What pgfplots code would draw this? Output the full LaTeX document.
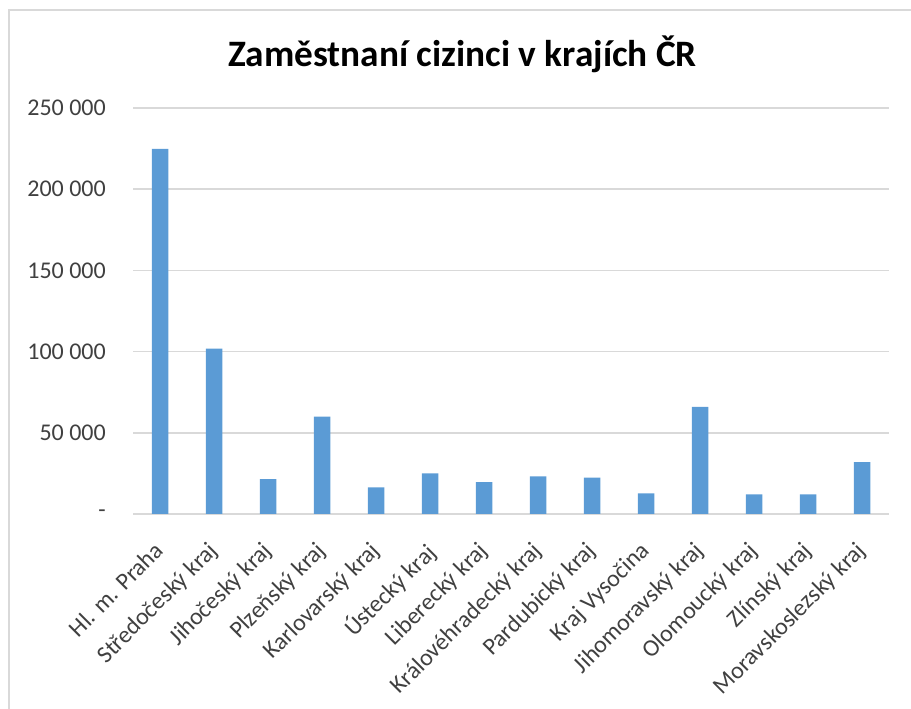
\documentclass[border=0pt]{standalone}
\usepackage{fontspec}
\setmainfont{Carlito}
\usepackage{pgfplots}
\pgfplotsset{compat=1.18}
\definecolor{barblue}{HTML}{5B9BD5}
\definecolor{gridgrey}{HTML}{D9D9D9}
\definecolor{labgrey}{HTML}{404040}
\begin{document}
\begin{tikzpicture}[x=1pt,y=1pt]
\path[use as bounding box] (0,0) rectangle (911,709);
\draw[gridgrey, line width=2pt] (9,0) -- (9,699) -- (911,699);
\node[anchor=base, font=\fontsize{37.3}{44}\selectfont\bfseries, text=black, inner sep=0pt] at (462.5,642) {Zaměstnaní cizinci v krajích ČR};
\begin{axis}[
  at={(133pt,195pt)}, anchor=south west,
  scale only axis, width=756pt, height=406pt,
  xmin=-0.5, xmax=13.5, ymin=0, ymax=250000,
  scaled y ticks=false,
  axis lines*=left,
  y axis line style={draw=none},
  x axis line style={draw=gridgrey, line width=1.5pt},
  major tick length=0pt,
  ymajorgrids, grid style={gridgrey, line width=1.5pt},
  ytick={0,50000,100000,150000,200000,250000},
  yticklabels={-\hspace{5pt},50 000,100 000,150 000,200 000,250 000},
  xtick={0,...,13},
  xticklabels={Hl. m. Praha,Středočeský kraj,Jihočeský kraj,Plzeňský kraj,Karlovarský kraj,Ústecký kraj,Liberecký kraj,Královéhradecký kraj,Pardubický kraj,Kraj Vysočina,Jihomoravský kraj,Olomoucký kraj,Zlínský kraj,Moravskoslezský kraj},
  y tick label style={font=\fontsize{24}{28}\selectfont, text=labgrey, inner sep=0pt, anchor=east, xshift=-27pt},
  x tick label style={font=\fontsize{24}{28}\selectfont, text=labgrey, inner sep=0pt, xshift=-7pt, yshift=-26pt, rotate=45, anchor=north east},
  /pgf/number format/assume math mode=true,
  clip=false,
]
\addplot[ybar, bar width=16.5pt, fill=barblue, draw=none] coordinates {
(0,224800) (1,101800) (2,21400) (3,59900) (4,16400) (5,25000) (6,19700)
(7,23200) (8,22400) (9,12700) (10,65900) (11,12100) (12,12100) (13,32000)
};
\end{axis}
\end{tikzpicture}
\end{document}
